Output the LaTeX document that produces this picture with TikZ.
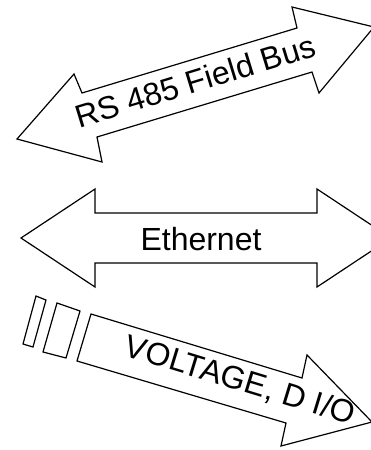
\documentclass[tikz,border=0pt]{standalone}
\usepackage{fontspec}
\setmainfont{Liberation Sans}
\usepackage{tikz}
\usetikzlibrary{positioning}

\begin{document}
\begin{tikzpicture}[
    x=1pt, y=-1pt,
    arrowshape/.style={draw=black, line width=1.2pt, fill=white, line join=miter},
    gapbar/.style={arrowshape},
    lbl/.style={inner sep=0pt, font=\fontsize{32}{38}\selectfont}
  ]
    \path[use as bounding box] (0,0) rectangle (371,450);
    \clip (0,0) rectangle (371,450);

    % field bus, both ways
    \draw[arrowshape] (17,139) -- (74,74) -- (82,93) -- (297,28) -- (292,7)
      -- (374,27) -- (319,93) -- (312,72) -- (97,137) -- (102,162) -- cycle;
    \node[lbl, rotate=17] (busLabel) at (195,81) {RS 485 Field Bus};

    % ethernet, both ways
    \draw[arrowshape] (21,238) -- (95,189) -- (95,213) -- (317,213) -- (317,189)
      -- (391,238) -- (317,287) -- (317,263) -- (95,263) -- (95,287) -- cycle;
    \node[lbl] (ethLabel) at (201,239) {Ethernet};

    % voltage / digital i/o, one way
    \draw[gapbar] (36,296) -- (46,300) -- (33,347) -- (23,344) -- cycle;
    \draw[gapbar] (57,303) -- (80,311) -- (66,358) -- (43,352) -- cycle;
    \draw[arrowshape] (91,314) -- (302,378) -- (307,355) -- (372,422)
      -- (281,446) -- (286,423) -- (77,361) -- cycle;
    \node[lbl, rotate=-17] (ioLabel) at (240,381) {VOLTAGE, D I/O};
  \end{tikzpicture}
\end{document}
